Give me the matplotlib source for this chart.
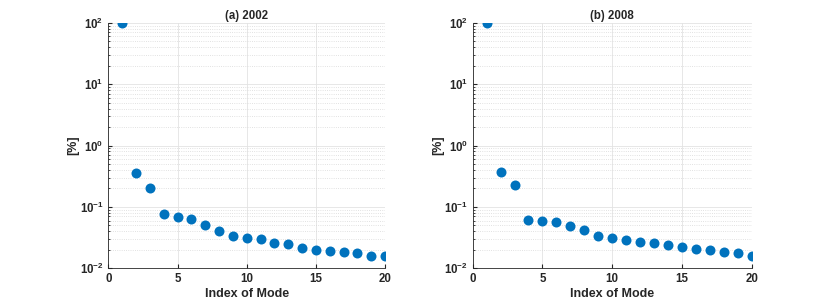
import matplotlib.pyplot as plt
from matplotlib.ticker import LogLocator, FixedLocator

# Mode index and explained variance per mode [%]
modes = list(range(1, 21))
var_2002 = [100, 0.36, 0.206, 0.0766, 0.0693, 0.0643, 0.0501, 0.040, 0.034, 0.0315,
            0.0297, 0.0258, 0.0246, 0.0214, 0.0201, 0.0189, 0.0184, 0.0178, 0.0160, 0.0157]
var_2008 = [100, 0.366, 0.227, 0.0605, 0.0597, 0.0568, 0.0494, 0.0416, 0.0336, 0.0315,
            0.0292, 0.0265, 0.0262, 0.0240, 0.0225, 0.0204, 0.0200, 0.0186, 0.0178, 0.0160]
titles = ["(a) 2002", "(b) 2008"]

plt.rcParams['font.family'] = ['Liberation Sans', 'DejaVu Sans']
plt.rcParams['font.weight'] = 'bold'
plt.rcParams['axes.unicode_minus'] = False

fig = plt.figure(figsize=(8.3, 3.01), dpi=100)
ax1 = fig.add_axes([0.1305, 0.1086, 0.3335, 0.816])
ax2 = fig.add_axes([0.5695, 0.1086, 0.3362, 0.816])

for ax, vals, title in zip([ax1, ax2], [var_2002, var_2008], titles):
    ax.semilogy(modes, vals, 'o', color='#0072BD', markersize=7.2, markeredgewidth=0)
    ax.set_xlim(0, 20)
    ax.set_ylim(1e-2, 1e2)
    ax.xaxis.set_major_locator(FixedLocator([0, 5, 10, 15, 20]))
    ax.yaxis.set_major_locator(LogLocator(base=10, numticks=10))
    ax.yaxis.set_minor_locator(LogLocator(base=10, subs=range(2, 10), numticks=20))
    ax.grid(True, which='major', color='#e3e3e3', linewidth=0.6)
    ax.grid(True, which='minor', axis='y', color='#d8d8d8', linestyle=':', linewidth=0.6)
    ax.set_axisbelow(True)
    ax.tick_params(which='both', direction='in', labelsize=8.3, colors='#262626')
    ax.tick_params(which='major', length=3)
    ax.tick_params(which='minor', length=1.5)
    for s in ['top', 'right']:
        ax.spines[s].set_visible(False)
    for s in ['left', 'bottom']:
        ax.spines[s].set_color('#262626')
        ax.spines[s].set_linewidth(0.6)
    ax.set_title(title, fontsize=8.3, fontweight='bold', color='#262626', pad=3)
    ax.set_xlabel("Index of Mode", fontsize=9, fontweight='bold', color='#262626', labelpad=2)
    ax.set_ylabel("[%]", fontsize=9, fontweight='bold', color='#262626', labelpad=0)

fig.savefig("out.png", dpi=100)
